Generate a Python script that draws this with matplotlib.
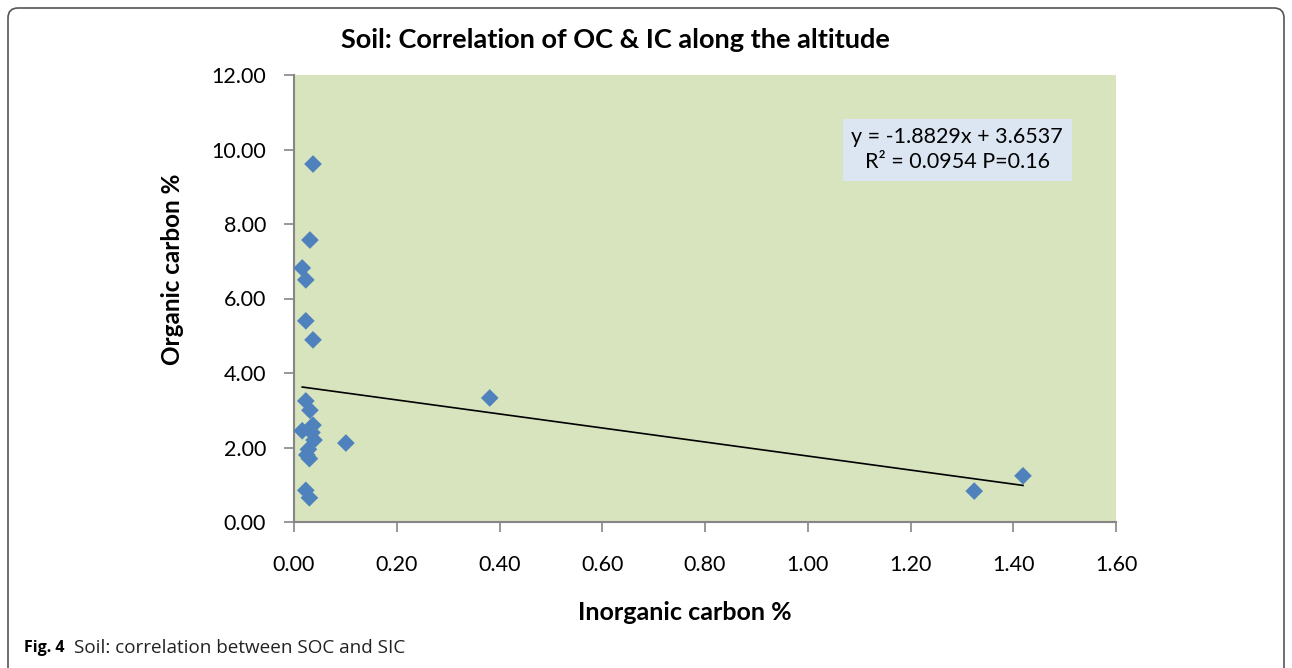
import numpy as np
import matplotlib.pyplot as plt
from matplotlib.patches import FancyBboxPatch

# inorganic carbon % (x) and organic carbon % (y)
inorganic_c = [0.037, 0.031, 0.016, 0.023, 0.023, 0.037,
               0.023, 0.031, 0.037, 0.016, 0.035, 0.039, 0.028,
               0.025, 0.030, 0.023, 0.030, 0.101, 0.381, 1.324, 1.419]
organic_c = [9.61, 7.57, 6.82, 6.50, 5.40, 4.89,
             3.25, 3.00, 2.60, 2.45, 2.40, 2.20, 1.95,
             1.80, 1.70, 0.85, 0.65, 2.12, 3.33, 0.83, 1.24]

# trendline as given on the chart
slope = -1.8829
intercept = 3.6537
eq_text = "y = -1.8829x + 3.6537\nR² = 0.0954 P=0.16"

x_ticks = [0.0, 0.2, 0.4, 0.6, 0.8, 1.0, 1.2, 1.4, 1.6]
y_ticks = [0.0, 2.0, 4.0, 6.0, 8.0, 10.0, 12.0]

plt.rcParams['font.family'] = ['Lato', 'DejaVu Sans']

fig = plt.figure(figsize=(12.92, 6.68), dpi=100)
ax = fig.add_axes([294 / 1292, 1 - 522 / 668, 822 / 1292, 447 / 668])
ax.set_facecolor('#D7E4BD')

ax.scatter(inorganic_c, organic_c, marker='D', s=9 ** 2, color='#4F81BD',
           edgecolors='none', zorder=3)

xl = np.array([min(inorganic_c), max(inorganic_c)])
ax.plot(xl, slope * xl + intercept, color='black', lw=1.2, zorder=2)

ax.set_xlim(0, 1.6)
ax.set_ylim(0, 12)
ax.set_xticks(x_ticks)
ax.set_yticks(y_ticks)
ax.set_xticklabels([f"{v:.2f}" for v in x_ticks])
ax.set_yticklabels([f"{v:.2f}" for v in y_ticks])
ax.tick_params(axis='both', labelsize=15.5, color='#868686', length=7,
               width=1.2)
ax.tick_params(axis='y', pad=13)
ax.tick_params(axis='x', pad=17)
for s in ['top', 'right']:
    ax.spines[s].set_visible(False)
for s in ['left', 'bottom']:
    ax.spines[s].set_color('#868686')
    ax.spines[s].set_linewidth(1.5)

ax.text(0.807, 0.833, eq_text, transform=ax.transAxes, ha='center',
        va='center', fontsize=15.5, linespacing=1.3,
        bbox=dict(boxstyle='square,pad=0.4', fc='#DCE6F2', ec='none'))

fig.text(615 / 1292, 1 - 40 / 668, "Soil: Correlation of OC & IC along the altitude",
         ha='center', va='center', fontsize=19.5, fontweight='bold')
fig.text(173 / 1292, 1 - 269 / 668, "Organic carbon %", rotation=90,
         ha='center', va='center', fontsize=17.5, fontweight='bold')
fig.text(685 / 1292, 1 - 612 / 668, "Inorganic carbon %",
         ha='center', va='center', fontsize=18, fontweight='bold')

# caption and outer frame
cap_font = ['Open Sans', 'DejaVu Sans']
fig.text(24 / 1292, 1 - 648 / 668, "Fig. 4", ha='left', va='center',
         fontsize=11.5, fontweight='bold', family=cap_font)
fig.text(74 / 1292, 1 - 648 / 668, "Soil: correlation between SOC and SIC",
         ha='left', va='center', fontsize=13.6, family=cap_font,
         color='#222222')
frame = FancyBboxPatch((8, -20), 1276, 680, boxstyle='round,pad=0,rounding_size=10',
                       transform=None, fc='none', ec='#555555', lw=1.2)
fig.patches.append(frame)

fig.savefig('out.png', dpi=100)
